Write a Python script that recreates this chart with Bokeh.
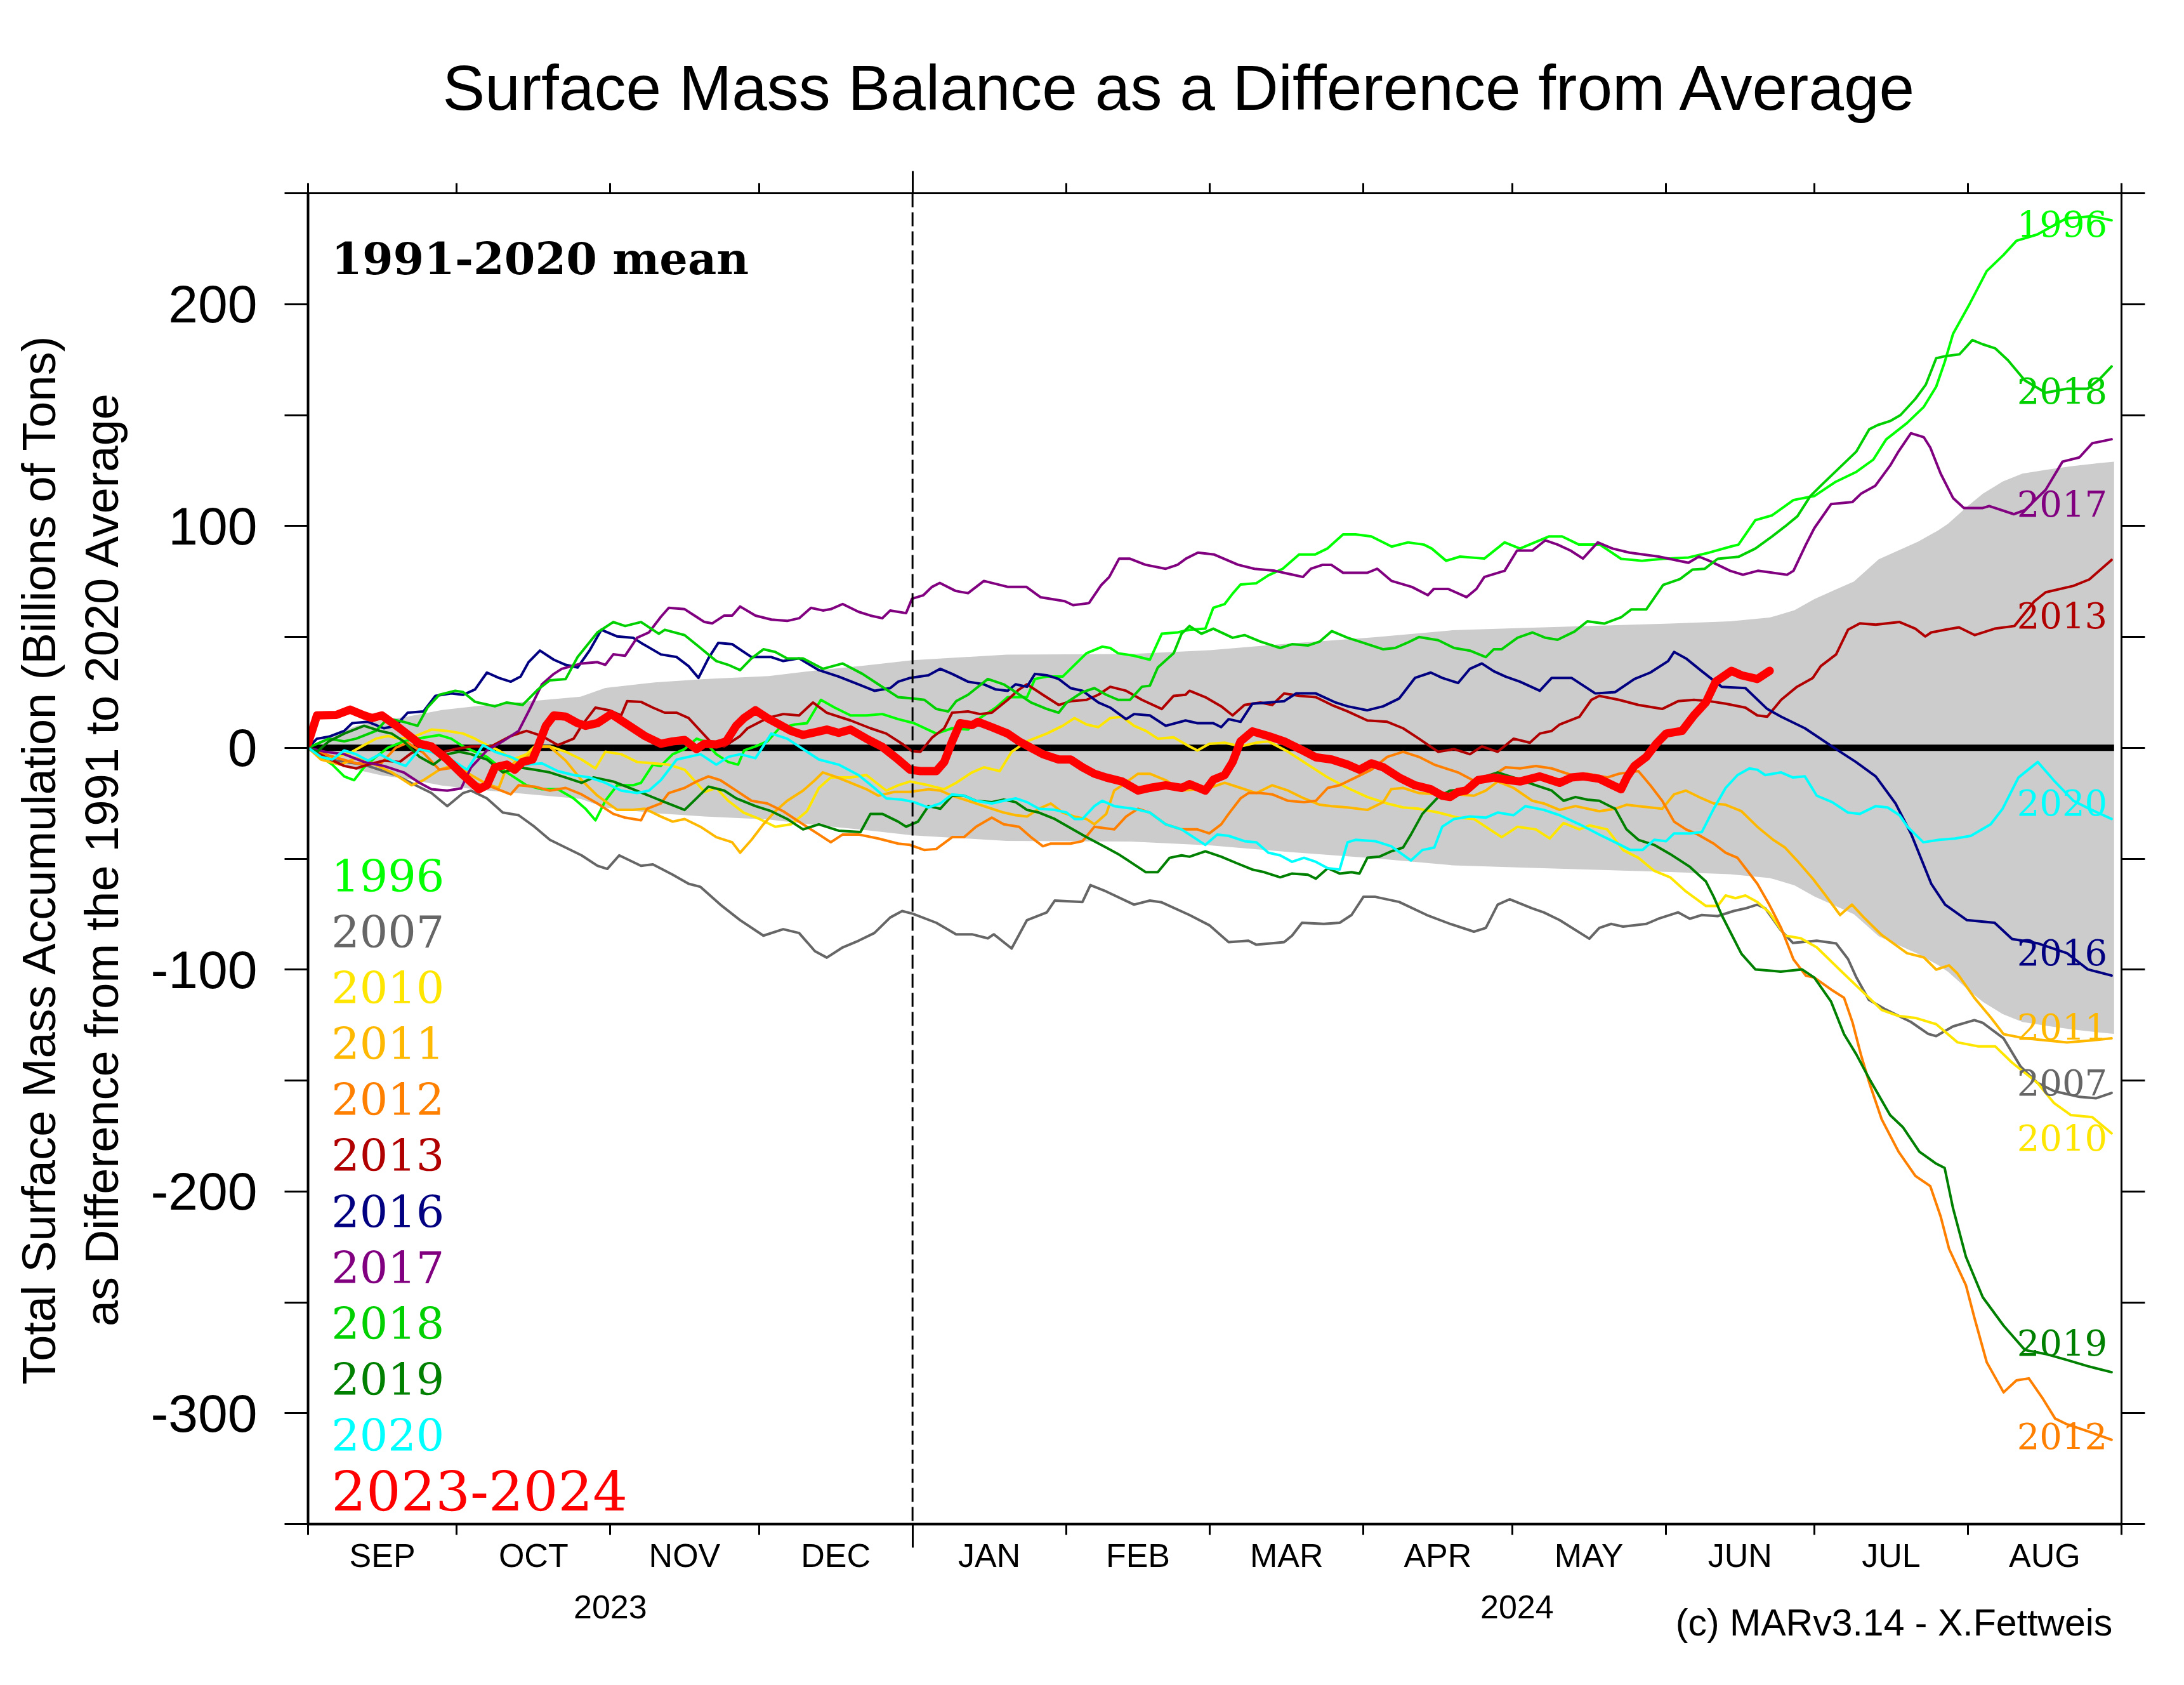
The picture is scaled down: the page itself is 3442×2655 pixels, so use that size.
import math
from bokeh.plotting import figure
from bokeh.models import Range1d, FixedTicker, LinearAxis, Span, Label
from bokeh.embed import file_html
from bokeh.resources import INLINE

# ---------------- data (day since 1 Sep 2023, anomaly in Gt) ----------------
month_names = ["SEP", "OCT", "NOV", "DEC", "JAN", "FEB", "MAR", "APR", "MAY", "JUN", "JUL", "AUG"]
month_bounds = [0, 30, 61, 91, 122, 153, 182, 213, 243, 274, 304, 335, 366]
year_names = ["2023", "2024"]
credit = "(c) MARv3.14 - X.Fettweis"
y_major = [-300, -200, -100, 0, 100, 200]
y_minor = [-350, -250, -150, -50, 50, 150, 250]

band_days = [0, 5, 10, 15, 20, 27, 35, 45, 55, 60, 70, 80, 93, 103, 112, 122, 141, 166, 182, 198,
             215, 231, 245, 260, 275, 287, 295, 300, 304, 308, 312, 317, 321, 325, 329, 331, 335,
             338, 342, 346, 351, 356, 360, 364.5]
band_half = [0, 6, 10, 12.5, 14, 17, 19, 21, 23, 27, 29.5, 31, 32.3, 35, 37, 39.5, 42, 42.3, 44, 47,
             49.8, 53, 54, 55, 56, 57, 58.7, 62, 67, 71, 75, 85, 89, 93, 98, 101, 109,
             114.5, 120, 123.6, 125.4, 127, 128, 129]

mean_days = [0, 364.5]
mean_vals = [0, 0]

s1996 = [(0,0),(2.6,-4.1),(4.9,-7.6),(7.3,-12.9),(9.3,-14.6),(11.3,-8.8),(13.7,-4.1),(16.1,0),(19.3,2.9),(22.5,4.3),(26.5,5.7),(28.9,4.1),(31.3,0.6),(33.7,-1.8),(36.1,-4.1),(39.3,-9.9),(41.7,-13.4),(44.1,-16.9),(47.2,-18.7),(50.4,-18.7),(53.6,-22.8),(56,-27.5),(58,-32.7),(60,-23.9),(62.4,-16.9),(65.6,-16.9),(67.2,-15.8),(69.6,-7.6),(71.2,-8.2),(73.6,-2.9),(76,-0.6),(78.4,4.1),(80,2.9),(82.4,-2.9),(84.8,-6.4),(86.8,-7.6),(88,-1.2),(90.3,0.6),(92.7,2.9),(95.1,8.8),(98.3,10.5),(100.7,11.1),(103.5,21.6),(106.3,18.1),(109.5,14.6),(112.7,14.6),(115.9,15.2),(119.1,12.9),(122.3,11.1),(126.8,6.4),(130,8.8),(133.2,8.2),(135.6,13.4),(138.8,18.1),(141.2,22.8),(145.1,22.8),(146.7,31),(149.1,32.1),(152.3,32.1),(153.9,35.6),(157.1,42.6),(160.3,45.6),(161.9,45),(163.5,42.6),(166.7,41.5),(169.9,39.7),(172.3,51.4),(175.5,52),(177.9,53.2),(181.1,53.7),(182.7,63.1),(185,64.8),(186.6,69.5),(188.2,73.6),(191.4,74.2),(193.8,77.7),(196.7,80.7),(200,87.1),(203.2,87.1),(205.7,89.8),(208.9,96.2),(211.4,96.2),(214.6,95.3),(218.7,90.7),(222,92.6),(225.2,91.6),(226.8,89.8),(229.7,84.3),(232.5,86.2),(237.4,85.3),(241.5,92.6),(244.6,89.8),(250.5,95.3),(253.1,95.3),(256.5,91.6),(260.7,91.6),(265,85.2),(269.2,84.3),(273.5,85.2),(278.6,85.8),(282.8,88),(287.1,90.7),(288.7,91.6),(292.1,102.6),(295.5,104.8),(299.8,111.7),(304,113.5),(308.3,119.9),(312.5,124.4),(315.9,129.9),(318.5,139),(322.7,146.4),(326.1,153.7),(328.6,162.8),(330.3,173.8),(332,186.6),(335.4,200.3),(338.8,214.9),(342.2,222.2),(344.8,228.6),(349,231.4),(354.9,238.7),(360.1,239.6),(364,237.8)]

s2007 = [(0,0),(5.7,-5.8),(11.3,-7.6),(17.7,-12.3),(21.7,-16.9),(24.9,-20.4),(28.1,-26.3),(31.3,-20.4),(32.9,-19.3),(36.1,-22.8),(39.3,-29.2),(42.5,-30.4),(45.7,-35.6),(48.8,-41.5),(52,-45),(55.2,-48.5),(58.4,-53.2),(60.4,-54.6),(62.8,-48.5),(67.2,-53.2),(69.6,-52.6),(73.6,-57.2),(76.8,-61.3),(79.2,-62.7),(83.2,-70.7),(87.2,-77.7),(91.9,-84.7),(95.9,-81.8),(99.1,-83.5),(102.3,-91.7),(104.7,-94.6),(107.9,-90),(111.1,-87),(114.3,-83.5),(117.5,-76.5),(119.9,-73.6),(122,-74.8),(126.8,-78.9),(130.8,-84.1),(134,-84.1),(137.2,-85.9),(138.4,-84.1),(142,-90.5),(145.1,-77.7),(149.1,-74.2),(150.7,-68.9),(156.3,-69.5),(157.9,-61.9),(161.1,-64.8),(166.7,-70.7),(169.9,-68.9),(172.3,-69.7),(177.9,-75.4),(181.9,-80),(185.8,-87.6),(189.8,-87),(191.4,-88.8),(197,-87.6),(198.6,-84.7),(200.6,-78.9),(205,-79.4),(208.2,-78.9),(210.6,-75.4),(213,-67.2),(215.4,-67.2),(220.2,-69.5),(225.8,-75.4),(230.5,-79.4),(235.3,-82.9),(237.7,-81.2),(240.1,-70.7),(242.5,-68.3),(247.1,-72.4),(249.4,-74.2),(252.6,-77.7),(258.6,-86.1),(260.6,-81.2),(263,-79.4),(265.4,-80.6),(270.1,-79.4),(272.5,-77.1),(276.5,-74.2),(278.9,-77.1),(281.3,-75.4),(284.5,-75.9),(287.7,-73.6),(290.1,-72.4),(292.5,-70.7),(294.1,-72.4),(297.3,-82.4),(299.7,-88),(304.5,-87),(308.4,-88.2),(310.8,-95.2),(312.5,-103.6),(315,-113.6),(318.4,-118),(323.5,-123.6),(327,-129),(328.6,-130),(332,-125.6),(336.3,-122.8),(338,-124),(342.2,-131),(345.6,-143.6),(349,-151),(352.4,-154.8),(357.5,-157.4),(360.9,-158),(364,-155.6)]

s2010 = [(0,0),(2.6,-3.5),(5.7,-4.3),(8.9,-1.8),(11.3,1.2),(13.7,4.1),(16.1,5.3),(18.5,4.1),(21.7,5.3),(24.9,8.2),(28.1,7.6),(31.3,6.4),(33.7,4.1),(36.1,1.2),(38.5,-1.2),(41.3,-5.3),(44.1,-2.9),(45.7,0.6),(48.8,0.6),(52,-1.8),(55.2,-5.3),(58,-9.3),(60,-1.8),(63.2,-2.9),(66.4,-6.4),(69.6,-7),(72.8,-7.6),(76,-9.9),(78.4,-15.8),(80,-19.9),(82.4,-18.1),(84.8,-23.9),(87.9,-29.2),(91.1,-32.1),(94.3,-35.6),(97.5,-34.5),(100.7,-28.6),(103.1,-18.1),(105.5,-13.4),(109.5,-13.4),(112.7,-12.3),(116.7,-19.3),(119.1,-16.9),(121.5,-15.2),(125.2,-16.9),(128.4,-18.7),(130.8,-15.8),(134,-11.1),(136.4,-8.8),(139.6,-10.5),(142,-1.8),(145.1,2.9),(149.1,6.4),(152.3,9.9),(154.7,13.4),(157.1,10.5),(159.5,9.3),(161.9,13.4),(164.3,14),(166.7,9.9),(169.1,7.6),(171.5,4.1),(174.7,4.7),(177.9,0.6),(179.5,-1.2),(181.9,1.8),(185,2.3),(188.2,0.6),(191.4,2.3),(193.8,2.9),(197.8,-1.8),(201.8,-7.6),(205.8,-13.4),(209.8,-18.1),(213.8,-22.2),(217.8,-25.1),(221,-26.9),(224.2,-27.5),(228.1,-29.2),(232.1,-31.5),(235.3,-32.1),(238.5,-36.8),(240.9,-40.3),(244.1,-35.6),(247.8,-36.8),(250.6,-40.9),(253.4,-33.9),(256.6,-36.8),(258.6,-35),(262.2,-36.8),(265.4,-46.1),(268.5,-49.6),(271.7,-55.5),(274.9,-58.4),(278.1,-64.8),(282.1,-71.3),(284.5,-71.3),(286.1,-66.6),(288.1,-67.8),(290.1,-66.6),(292.5,-69.5),(294.9,-74.2),(298.1,-84.7),(301.3,-85.9),(304.5,-90),(309.1,-100),(314.2,-110.9),(317.6,-118.2),(321,-120.9),(324.4,-121.8),(328.6,-124.6),(332.9,-132.8),(337.1,-134.6),(340.5,-134.6),(343.9,-141.9),(349,-151),(352.4,-160.2),(355.8,-165.6),(360.1,-166.5),(364,-173.8)]

s2011 = [(0,0),(2.6,-5.3),(6.5,-7.6),(9.7,-4.7),(12.9,-7),(16.9,-11.1),(20.9,-16.9),(23.3,-14.6),(26.5,-9.9),(29.7,-7.6),(32.9,-12.3),(36.1,-16.4),(38.5,-18.1),(39.7,-11.1),(41.7,-6.4),(44.1,-4.1),(46.4,0.4),(48.8,0.4),(52,-5.8),(55.2,-14.6),(58.4,-21.6),(62.4,-28),(65.6,-28),(68,-27.5),(71.2,-31),(73.6,-33.3),(76,-32.1),(79.2,-35.6),(82.4,-40.3),(85.6,-42.6),(87.2,-47.3),(89.5,-41.5),(91.9,-34.5),(94.3,-28.6),(96.7,-23.9),(99.9,-19.3),(102.3,-14.6),(103.9,-11.1),(106.3,-12.9),(109.5,-15.8),(112.7,-18.7),(115.1,-21.6),(118.3,-19.9),(121.5,-19.9),(125.2,-18.7),(127.6,-19.3),(130,-21.6),(134,-24.5),(137.2,-26.9),(140.4,-29.2),(142.8,-30.4),(145.1,-31),(147.5,-27.5),(149.9,-25.1),(152.3,-29.2),(154.7,-31),(157.1,-32.1),(158.7,-34.5),(161.1,-29.8),(162.7,-19.3),(164.3,-16.9),(167.5,-11.7),(169.9,-11.7),(173.1,-14.6),(176.3,-19.3),(181.9,-18.1),(185,-15.8),(188.2,-18.1),(191.4,-20.4),(194.6,-16.9),(197.8,-19.3),(201,-22.8),(204.2,-25.7),(206.6,-26.3),(209.8,-26.9),(213.8,-28),(217,-24.5),(218.6,-18.7),(221,-18.1),(224.2,-20.4),(228.1,-21),(232.1,-21),(235.3,-21.6),(237.7,-19.3),(240.1,-15.2),(243.3,-18.1),(247.1,-23.9),(249.4,-25.1),(252.6,-28),(255.8,-26.3),(260.6,-28.6),(263.8,-27.5),(266.1,-25.7),(268.5,-26.3),(273.3,-27.5),(275.7,-21),(278.1,-19.3),(281.3,-22.8),(283.7,-25.1),(286.1,-25.7),(289.3,-28.6),(292.5,-35.6),(295.7,-41.5),(298.1,-45),(300.5,-50.8),(303.7,-59),(306.1,-66),(309.2,-75.4),(311.6,-70.7),(314,-76.5),(317.6,-84.4),(322.7,-92.6),(326.1,-94.5),(328.6,-100),(331.2,-98.1),(332.9,-101.8),(336.3,-112.7),(339.7,-121.8),(342.2,-129.1),(346.5,-131),(350.7,-131.9),(355,-132.8),(360.1,-131.9),(364,-131)]

s2012 = [(0,0),(4.2,-3.5),(9.7,-7),(14.5,-7.6),(17.7,0),(20.1,2.3),(23.3,-2.3),(26.5,-9.9),(29.7,-8.8),(32.9,-15.8),(36.9,-17.5),(40.9,-21),(42.5,-16.9),(45.7,-17.5),(48.8,-19.3),(52,-18.1),(55.2,-21),(58.4,-25.1),(61.6,-29.8),(64,-31.5),(67.2,-32.7),(68.4,-27.5),(71.2,-25.1),(72.8,-20.4),(76,-18.1),(78.4,-15.2),(80.8,-12.9),(83.2,-14.6),(86.4,-19.3),(89.5,-23.9),(92.7,-25.1),(95.9,-28.6),(99.9,-34.5),(103.1,-39.1),(105.5,-42.6),(107.9,-39.1),(111.1,-39.1),(115.1,-40.9),(119.1,-43.2),(121.5,-43.8),(124.4,-46.1),(126.8,-45.6),(130,-40.3),(132.4,-40.3),(134.8,-35.6),(138,-31.5),(140.4,-34.5),(143.5,-35.6),(145.9,-40.3),(148.3,-44.4),(149.9,-43.2),(153.9,-43.2),(156.3,-42.1),(158.7,-35.6),(162.7,-36.8),(165.1,-31),(167.5,-27.5),(169.9,-29.2),(173.1,-34.5),(176.3,-36.8),(179.5,-36.8),(181.9,-38.6),(184.3,-34.5),(185.8,-29.8),(188.2,-22.8),(189.8,-20.4),(192.2,-20.4),(194.6,-21),(197.8,-23.9),(201,-24.5),(203.4,-23.9),(205.8,-18.1),(208.2,-16.9),(211.4,-13.4),(214.6,-9.9),(217.8,-4.1),(221,-1.8),(224.2,-4.1),(227.3,-7.6),(232.1,-11.1),(236.1,-15.8),(239.3,-12.3),(241.7,-8.8),(244.6,-9.3),(247.8,-8.2),(251,-9.3),(255,-12.3),(258.2,-11.7),(262.2,-13.4),(264.6,-11.7),(268.5,-10.5),(270.9,-16.9),(273.3,-23.9),(275.7,-33.3),(278.1,-36.8),(280.5,-39.1),(283.7,-43.2),(286.1,-47.3),(288.5,-49.6),(290.1,-54.3),(292.5,-61.3),(294.9,-70.7),(297.3,-81.2),(299.8,-95.4),(302.3,-102.7),(304,-103.6),(307.4,-109),(310,-112.7),(311.7,-123.7),(313.4,-138.3),(315.1,-151),(317.6,-167.5),(321,-182.1),(324.4,-193),(327.4,-197.6),(329.5,-211.3),(331.2,-225.9),(334.6,-242.3),(336.3,-256.9),(338.8,-277),(342.2,-290.6),(344.8,-285.2),(347.3,-284.3),(350,-293),(352.6,-302.4),(355,-305),(360.3,-309),(364,-312)]

s2013 = [(0,0),(3.4,-4.1),(7.3,-8.2),(9.7,-9.3),(12.1,-7.6),(15.3,-5.8),(18.5,-6.4),(20.9,-2.3),(23.3,-0.6),(26.5,-2.3),(29.7,-0.6),(32.9,0.6),(36.9,0.6),(40.9,5.3),(44.1,7.6),(47.2,5.3),(50.4,1.2),(53.6,4.1),(55.2,9.9),(58,18.1),(60.8,16.9),(63.2,14.6),(64.4,21),(67.2,20.7),(69.6,18.1),(72,15.8),(74.4,15.8),(76.8,13.4),(79.2,7.6),(81.6,1.8),(84,0.6),(87.2,5.3),(88.7,8.8),(92.7,13.4),(95.9,15.2),(99.1,14.6),(101.9,20.4),(104.7,15.8),(109.5,12.3),(113.5,8.8),(116.7,6.4),(119.9,1.8),(121.9,-1.5),(123.6,-1.8),(126,4.7),(128.4,8.8),(130,15.8),(133.2,16.4),(135.6,15.2),(138,15.8),(141.2,21.6),(143.5,26.3),(145.1,28.6),(148.3,23.9),(151.5,19.3),(153.9,21),(157.1,21.6),(159.5,23.9),(161.9,27.5),(165.1,25.7),(168.3,21.6),(172.3,17.5),(174.7,23.4),(177.1,23.9),(177.9,25.7),(181.1,22.8),(184.3,18.7),(186.6,14.6),(189,19.3),(192.2,20.4),(194.6,19.3),(197,24.5),(200.2,23.4),(203.4,22.8),(206.6,19.3),(209.8,16.4),(213.8,12.3),(217.8,11.7),(221,8.8),(224.2,4.1),(228.1,-1.8),(231.3,-0.6),(234.5,-2.9),(236.9,0.6),(240.1,-1.8),(243.3,4.1),(246.6,2.3),(248.6,6.4),(251,7.6),(252.6,10.5),(256.6,14),(259,21.6),(260.6,23.4),(264.6,21.6),(268.5,19.3),(273.3,17.5),(276.5,21),(279.7,21.6),(282.9,21),(286.1,19.9),(290.1,18.1),(292.5,14.6),(294.5,14),(297.3,21.6),(300.5,27.5),(303.7,31.5),(305.3,36.8),(308.4,42.1),(310.8,53.2),(313.2,56.1),(316.4,55.5),(321.2,56.7),(324.4,53.7),(326.4,50.2),(327.6,52),(330.4,53.2),(333.2,54.3),(336.4,50.8),(340.4,53.7),(344.4,54.9),(348.4,66),(350.7,70.1),(356.3,73),(359.5,75.9),(364,84.7)]

s2016 = [(0,0),(1.8,4.1),(4.2,5),(7.3,7.6),(8.9,11.1),(12.1,11.7),(15.3,8.8),(17.7,9.9),(20.1,15.8),(23.3,16.4),(25.7,23.4),(28.9,24.5),(31.3,23.9),(33.7,26.3),(36.1,33.9),(38.5,31.5),(40.9,29.8),(42.9,32.1),(44.5,38.6),(46.8,43.8),(49.6,39.7),(52,37.4),(54.4,36.2),(56.8,43.8),(59.2,53.2),(62.4,50.2),(65.6,49.6),(67.2,47.3),(71.2,42.1),(74.4,40.9),(76.8,36.8),(78.8,31.5),(80.8,40.3),(82.8,47.3),(85.6,46.7),(89.5,40.9),(93.5,40.9),(95.9,39.1),(99.1,40.3),(103.1,35),(107.1,32.1),(111.1,28.6),(114.3,25.7),(117.5,26.9),(119.1,29.8),(121.5,31.5),(125.2,32.7),(127.6,35.6),(130,33.3),(133.2,29.8),(136.4,28.6),(138.8,26.3),(141.2,25.7),(142.8,28.6),(145.1,27.5),(146.7,33.3),(149.1,32.7),(151.5,31),(153.9,26.9),(156.3,25.7),(159.5,20.4),(161.9,18.1),(165.1,12.9),(166.7,15.2),(169.9,14.6),(173.1,9.9),(177.1,12.3),(179.5,11.1),(182.7,11.1),(184.3,9.3),(185.8,12.9),(188.2,11.7),(190.6,19.9),(193.8,20.4),(197,21),(199.4,24.5),(203.4,24.5),(207.4,20.4),(209.8,18.7),(213.8,16.9),(217,18.7),(220.2,22.2),(223.4,31.5),(226.6,33.9),(228.9,31.5),(232.1,29.2),(234.5,35.6),(236.9,38),(239.3,34.5),(241.7,32.1),(244.6,29.8),(248.6,25.7),(251,31.5),(255,31.5),(259.8,24.5),(263.8,25.1),(267.7,31),(270.9,33.9),(274.5,39.1),(275.7,43.2),(278.1,40.3),(281.3,34.5),(285.3,27.5),(290.1,26.9),(294.5,17.5),(297.3,14),(302.1,8.8),(308.4,-0.6),(312.4,-6.4),(316.4,-12.9),(320.4,-25.1),(323.6,-39.1),(327.6,-61.3),(330.4,-70.7),(334.8,-77.7),(340.4,-78.9),(343.9,-86.2),(349,-88.1),(355,-92.6),(359.2,-99.9),(364,-102.7)]

s2017 = [(0,0),(3.4,-1.8),(7.3,-2.9),(11.3,-6.4),(15.3,-8.2),(19.3,-11.1),(22.5,-15.8),(24.9,-18.7),(28.1,-19.3),(30.9,-18.3),(32.9,-8.8),(36.1,-1.2),(39.3,2.9),(42.5,7.6),(44.9,18.1),(47.2,28.6),(49.6,33.3),(51.2,35.6),(55.2,38),(58.4,38.6),(60,37.4),(61.6,42.1),(64,41.5),(66.4,49.6),(68.8,52),(71.2,59),(72.8,63.1),(76,62.5),(78.4,59),(80,56.7),(81.6,56.1),(84,59.6),(85.6,59.6),(87.2,63.7),(90.3,59.6),(93.5,57.8),(96.7,57.2),(99.1,58.4),(101.5,63.1),(103.9,61.9),(105.5,62.5),(107.9,64.8),(111.1,61.3),(113.5,59.6),(115.9,58.4),(117.5,61.9),(120.7,60.7),(121.9,67.2),(124.2,68.8),(125.9,72.5),(127.5,74.3),(130.7,70.7),(133.2,69.7),(136.4,75.2),(141.3,72.5),(145,72.5),(147.8,67.9),(152.7,66.1),(154.4,64.3),(157.6,65.2),(160.1,73.4),(161.7,77),(163.7,85.3),(165.8,85.3),(169,82.5),(173.1,80.7),(175.5,82.5),(177.2,85.3),(179.6,88),(182.9,87.1),(187.7,82.5),(191,80.7),(195.1,79.8),(200.8,77),(202.4,80.7),(204.8,82.5),(206.5,82.5),(208.9,78.9),(213.8,78.9),(215.8,80.7),(218.7,75.2),(222.8,72.5),(226,68.8),(227.2,71.6),(230.1,71.6),(233.8,67.9),(235.8,71.6),(237.4,77),(241.5,79.8),(244,88.9),(247.1,88.9),(249.7,93.5),(252.2,91.6),(254.8,88.9),(257.3,85.3),(260.3,92.6),(263.3,89.8),(266.7,88),(272.6,86.2),(278.6,83.4),(280.7,86.2),(282.8,84.3),(287,79.8),(289.6,78),(292.6,79.8),(298.5,78),(299.8,79.8),(302.3,91.6),(304,99),(307.4,109.9),(311.7,110.8),(313.4,114.5),(316.3,118.1),(319.3,127.2),(321,133.6),(323.5,141.8),(326.1,140),(327.4,135.4),(329.5,123.6),(332,112.6),(334.2,108.1),(338,108.1),(339.3,109),(344.3,105.3),(346.5,107.2),(350.7,116.3),(354.1,129),(357.5,130.9),(360.1,137.3),(364,139.1)]

s2018 = [(0,0),(4.2,4.1),(7.3,2.9),(9.7,4.1),(13.7,7.6),(16.1,13.2),(19.3,11.7),(22.1,9.9),(24.1,18.1),(26.5,23.9),(29.7,25.7),(31.3,25.1),(33.7,20.7),(37.7,18.7),(40.1,20.4),(43.3,19.3),(46.4,26.3),(48.8,30.4),(52,31),(54.4,40.9),(58.4,52),(61.6,56.7),(64,54.9),(67.2,56.7),(70.8,51.4),(72,53.2),(76,50.8),(79.2,45),(82.4,39.1),(84.8,37.4),(87.2,35),(89.5,40.3),(91.9,44.4),(94.3,43.2),(96.7,40.3),(99.9,40.3),(103.9,35.6),(107.9,38),(111.9,33.3),(115.1,28.6),(119.1,22.8),(122.3,22.2),(124.4,21.6),(126.8,17.5),(129.2,16.4),(130.8,21),(133.2,23.9),(137.2,31),(140.4,28.6),(142.8,25.1),(145.9,20.4),(149.1,17.5),(151.5,15.8),(153.1,20.4),(156.3,25.1),(158.7,26.9),(161.1,23.9),(163.5,21.6),(165.9,21.6),(168.3,27.5),(169.9,28),(171.5,36.2),(174.7,42.6),(176.3,51.4),(177.9,54.9),(180.3,51.4),(182.7,53.7),(186.6,49.6),(189,50.8),(192.2,47.9),(196.2,45),(198.6,46.7),(201.8,46.1),(204.2,47.9),(206.6,52.6),(209.8,49.6),(213,47.3),(217,44.4),(219.4,45),(221.8,47.3),(224.2,49.9),(228.1,48.5),(231.3,45),(234.5,43.8),(237.7,40.9),(239.3,44.4),(240.9,44.4),(244.1,49.6),(247.1,52),(249.7,49.6),(252.2,48.7),(255.6,52.4),(258.2,57),(261.6,56),(265,58.8),(267.1,62.4),(270.1,62.4),(273.5,73.4),(276.9,76.1),(279.4,80.3),(281.9,80.7),(284.5,85.2),(288.7,86.1),(292.1,89.8),(295.5,95.3),(298.1,99.8),(300.6,104.4),(303.2,113.5),(305.7,119),(309.1,126.3),(312.5,133.6),(315.1,143.6),(316.8,145.5),(319.3,147.3),(321.4,150),(324.4,157.3),(326.5,163.7),(328.6,175.6),(330.3,176.5),(333.3,177.4),(335.9,183.8),(338,181.9),(340.5,180.1),(343.1,174.7),(346.5,165.6),(350.7,160.1),(355,161.9),(359.2,161.9),(361.7,166.5),(364,171.9)]

s2019 = [(0,0),(1.8,-1.8),(4.2,2.9),(7.3,6.4),(11.3,9.9),(14.5,7.6),(16.9,6.4),(19.3,2.9),(22.5,-4.1),(25.3,-7.6),(28.1,-2.9),(30.5,-1.8),(32.9,-2.9),(36.1,-5.3),(39.3,-11.1),(42.5,-8.8),(45.7,-9.9),(48.8,-11.1),(52,-13.4),(55.2,-15.8),(57.6,-13.4),(61.6,-15.2),(65.6,-18.7),(68.8,-21.6),(72,-24.5),(76,-28),(78.4,-22.8),(80.8,-17.5),(84,-19.3),(86.4,-22.8),(90.3,-26.3),(93.5,-28.6),(96.7,-32.1),(99.9,-36.8),(103.1,-34.5),(107.1,-37.4),(111.5,-38),(113.5,-29.8),(115.9,-29.8),(119.1,-33.3),(120.7,-35.6),(123.1,-33.3),(125.2,-26.3),(127.6,-27.5),(130,-21.6),(132.4,-21.6),(134.8,-23.9),(138,-24.5),(140.4,-23.4),(142.8,-24.5),(145.1,-28),(147.5,-29.2),(150.7,-32.1),(153.9,-36.2),(157.1,-40.3),(161.1,-45),(163.5,-47.9),(165.9,-51.4),(169.1,-56.1),(171.5,-56.1),(173.9,-49.6),(176.3,-48.5),(177.9,-49.1),(181.1,-46.7),(184.3,-49.1),(187.4,-52),(190.6,-54.9),(193,-56.1),(196.2,-58.4),(198.6,-56.7),(201.8,-57.2),(203.4,-59),(205.8,-54.3),(208.2,-56.7),(210.6,-56.1),(212.2,-56.7),(213.8,-49.6),(216.2,-49.1),(218.6,-46.7),(221,-45),(222.6,-39.1),(224.9,-29.8),(228.1,-22.2),(230.5,-19.3),(233.7,-18.7),(236.9,-13.4),(240.1,-11.1),(243.3,-13.4),(247.8,-16.9),(251,-19.3),(253.4,-23.9),(255.8,-22.2),(258.2,-23.4),(260.6,-23.9),(263.8,-27.5),(266.1,-36.8),(268.5,-41.5),(271.7,-43.8),(274.9,-47.9),(278.9,-53.7),(282.1,-60.2),(283.7,-67.2),(285.3,-75.4),(287.7,-85.9),(289.3,-92.9),(292.1,-99.9),(297.2,-100.9),(301.5,-99.9),(304,-103.6),(307.4,-114.5),(310,-129.1),(312.5,-138.3),(315.1,-149.2),(319.3,-165.6),(321.9,-171.1),(325.2,-182.1),(328.6,-187.5),(330.3,-189.4),(332,-207.6),(334.6,-229.5),(338,-247.7),(342.2,-260.5),(346.5,-271.5),(350.7,-273.3),(355,-276),(359.2,-278.8),(364,-281.5)]

s2020 = [(0,0),(2.6,-4.1),(4.9,-5.3),(7.3,-1.2),(9.7,-2.9),(12.1,-5.8),(14.5,-2.9),(16.9,-5.8),(19.7,-8.2),(22.5,-0.6),(24.9,-1.8),(27.3,-4.1),(29.7,-6.4),(32.1,-9.9),(35.3,1.2),(37.7,-1.8),(40.9,-4.1),(44.1,-7.6),(47.2,-7),(50.4,-10.5),(53.6,-12.3),(56.8,-13.4),(60,-15.8),(63.2,-19.3),(66.4,-20.4),(68.8,-19.3),(71.2,-14.6),(74.4,-5.3),(79.2,-2.9),(82.4,-7.6),(84.8,-4.1),(87.2,-2.9),(90.3,-4.7),(93.5,6.4),(96.7,4.1),(99.9,-0.6),(103.1,-5.3),(107.1,-7.6),(111.1,-12.3),(114.3,-18.1),(116.7,-22.8),(119.9,-23.4),(122.3,-24.5),(125.2,-26.9),(127.6,-25.1),(130,-21),(132.4,-21.6),(134.8,-23.9),(138,-25.1),(140.4,-23.9),(142.8,-22.8),(145.1,-24.5),(147.5,-27.5),(150.7,-28),(153.1,-29.2),(154.7,-32.1),(156.3,-32.1),(158.7,-26.3),(160.3,-23.9),(162.7,-26.3),(166.7,-27.5),(169.9,-29.2),(173.1,-34.5),(176.3,-36.8),(178.7,-40.3),(181.1,-43.8),(183.5,-39.1),(185.8,-39.7),(189,-42.1),(191.4,-42.6),(193.8,-47.3),(196.2,-48.5),(198.6,-51.4),(201,-49.6),(203.4,-51.4),(205.8,-54.3),(208.2,-54.9),(209.8,-42.6),(211.4,-41.5),(215.4,-42.1),(218.6,-44.4),(222.6,-50.8),(224.9,-46.1),(227.3,-45),(228.9,-35.6),(231.3,-32.1),(234.5,-31),(237.7,-31.5),(240.1,-29.2),(243.3,-30.4),(245.7,-26.3),(249.4,-28),(252.6,-30.4),(256.6,-34.5),(260.6,-39.1),(263.8,-42.6),(266.9,-46.1),(269.3,-46.1),(271.7,-41.5),(274.1,-42.1),(275.7,-38.6),(278.9,-38.6),(281.3,-38),(283.7,-27.5),(286.1,-18.1),(288.5,-12.3),(290.9,-9.3),(292.5,-9.9),(294.1,-12.3),(297.3,-11.1),(299.7,-13.4),(302.1,-12.9),(304.5,-21.6),(307.6,-24.5),(310.8,-29.2),(313.2,-29.8),(316.4,-26.3),(318.8,-26.9),(321.2,-30.4),(322.8,-35.6),(326,-42.6),(329.2,-41.5),(332.4,-40.9),(335.6,-39.7),(339.6,-34.5),(342,-27.5),(345.2,-13.4),(349.1,-6.4),(352.3,-14.6),(356.3,-23.9),(359.5,-27.5),(364,-32.1)]

s2024 = [(0,2),(1.8,14.6),(5.7,14.8),(8.5,17.2),(11.3,14.6),(12.9,13.4),(14.9,14.6),(18.5,8.8),(22.5,1.8),(24.9,0.6),(28.1,-5.3),(31.3,-12.3),(34.5,-18.7),(36.1,-16.9),(37.7,-8.8),(40.1,-7.6),(41.7,-9.9),(43.3,-6.4),(45.3,-5.3),(46.4,0.6),(48,9.9),(49.6,14.6),(52,14),(54.4,11.1),(56,9.9),(58.4,11.1),(61.2,15.2),(63.2,12.3),(65.6,8.8),(68,5.3),(71.2,1.8),(73.6,2.9),(76,3.5),(78.4,-0.6),(80,1.8),(82.4,1.5),(84.4,2.9),(86.4,9.9),(88,13.4),(90.3,16.9),(92.7,13.4),(95.1,10.5),(97.5,7.6),(99.9,5.8),(102.3,7),(104.7,8.2),(107.1,6.7),(109.5,8.2),(112.7,4.1),(115.9,0.4),(119.1,-5.3),(121.5,-9.9),(123.6,-10.5),(126.8,-10.5),(128.4,-6.4),(130,2.9),(131.6,11.1),(134,10.2),(135.2,11.7),(138,9.3),(141.2,6.4),(143.5,2.9),(145.9,0),(148.3,-2.9),(151.5,-5.3),(153.9,-5.3),(156.3,-8.8),(158.7,-11.7),(161.1,-13.4),(164.3,-15.2),(167.5,-19.3),(169.9,-18.1),(173.1,-16.9),(176.3,-18.1),(177.9,-16.4),(181.1,-19.3),(182.7,-14.4),(185,-12.3),(186.6,-6.4),(188.2,2.9),(190.6,7.4),(193.8,5.3),(197,2.9),(200.2,-0.6),(203.4,-4.3),(206.6,-5.3),(209.8,-7.6),(212.2,-9.9),(214.6,-7),(217,-8.8),(220.2,-13.4),(223.4,-16.9),(226.6,-18.7),(228.9,-21.6),(230.5,-22.2),(232.1,-19.9),(233.7,-19.3),(236.1,-14.6),(239.3,-13.4),(242.5,-14.6),(244.6,-15.2),(248.6,-12.9),(252.6,-15.8),(255,-13.4),(257.4,-12.9),(260.6,-14),(265,-18.7),(266.2,-13.2),(267.7,-8.2),(270.1,-4.1),(272.1,1.8),(274.1,6.4),(277.3,7.6),(279.7,14.6),(282.1,20.4),(284.1,29.8),(287.3,34.7),(289.3,32.7),(292.5,31),(295,34.7)]

years = ["1996", "2007", "2010", "2011", "2012", "2013", "2016", "2017", "2018", "2019", "2020"]
series = {"1996": s1996, "2007": s2007, "2010": s2010, "2011": s2011, "2012": s2012,
          "2013": s2013, "2016": s2016, "2017": s2017, "2018": s2018, "2019": s2019,
          "2020": s2020}
current_name = "2023-2024"

# value of each line where its right-hand tag is written
tag_values = {"1996": 236.2, "2018": 160.9, "2017": 110.0, "2013": 59.6, "2020": -24.8,
              "2016": -92.3, "2011": -125.8, "2007": -151.0, "2010": -175.8,
              "2019": -268.3, "2012": -310.3}

colors = {"1996": "#00ff00", "2007": "#666666", "2010": "#ffe600", "2011": "#ffb800",
          "2012": "#ff8000", "2013": "#b00000", "2016": "#000080", "2017": "#800080",
          "2018": "#00d000", "2019": "#008000", "2020": "#00ffff", current_name: "#ff0000"}

# ---------------- figure ----------------
SANS = "Liberation Sans"
SERIF = "DejaVu Serif"

W, H = 3426, 2639
p = figure(width=W, height=H, x_range=Range1d(0, 366), y_range=Range1d(-350, 250),
           output_backend="svg", toolbar_location=None,
           min_border_left=485, min_border_right=83, min_border_top=304, min_border_bottom=238)
p.grid.visible = False
p.outline_line_color = None
p.background_fill_color = "white"
p.border_fill_color = "white"

p.title.text = "Surface Mass Balance as a Difference from Average"
p.title.text_font = SANS
p.title.text_font_size = "100px"
p.title.text_font_style = "normal"
p.title.text_color = "black"
p.title.align = "left"
p.title.offset = 212
p.title.standoff = 151

# bottom axis 1: month boundary ticks, Jan 1 tick longer (dashed line continuation)
xa = p.xaxis[0]
xa.ticker = FixedTicker(ticks=[122], minor_ticks=month_bounds)
xa.major_tick_out = 37
xa.major_tick_in = 0
xa.minor_tick_out = 17
xa.minor_tick_in = 0
xa.major_label_text_font_size = "0px"
xa.major_label_overrides = {122: ""}
xa.major_label_standoff = 0
xa.axis_line_width = 4
xa.major_tick_line_width = 3
xa.minor_tick_line_width = 3

# bottom axis 2: month names at mid-month
mid_months = [(month_bounds[i] + month_bounds[i + 1]) / 2 for i in range(12)]
months_axis = LinearAxis(ticker=FixedTicker(ticks=mid_months),
                         major_label_overrides={m: n for m, n in zip(mid_months, month_names)},
                         major_label_text_font=SANS, major_label_text_font_size="52px",
                         major_label_text_color="black",
                         major_label_standoff=-17, major_tick_out=0, major_tick_in=0,
                         axis_line_color=None, major_tick_line_color=None,
                         minor_tick_line_color=None)
p.add_layout(months_axis, "below")

# bottom axis 3: years
year_pos = [(month_bounds[0] + month_bounds[4]) / 2, (month_bounds[4] + month_bounds[12]) / 2]
years_axis = LinearAxis(ticker=FixedTicker(ticks=year_pos),
                        major_label_overrides={year_pos[0]: year_names[0],
                                               year_pos[1]: year_names[1]},
                        major_label_text_font=SANS, major_label_text_font_size="52px",
                        major_label_text_color="black",
                        major_label_standoff=31, major_tick_out=0, major_tick_in=0,
                        axis_line_color=None, major_tick_line_color=None,
                        minor_tick_line_color=None)
p.add_layout(years_axis, "below")

# bottom axis 4: credit line
credit_pos = [320.1]
credit_axis = LinearAxis(ticker=FixedTicker(ticks=credit_pos),
                         major_label_overrides={credit_pos[0]: credit},
                         major_label_text_font=SANS, major_label_text_font_size="59px",
                         major_label_text_color="black",
                         major_label_standoff=-29, major_tick_out=0, major_tick_in=0,
                         axis_line_color=None, major_tick_line_color=None,
                         minor_tick_line_color=None)
p.add_layout(credit_axis, "below")

top = LinearAxis(ticker=FixedTicker(ticks=[122], minor_ticks=month_bounds),
                 major_tick_out=35, major_tick_in=0, minor_tick_out=16, minor_tick_in=0,
                 major_label_text_font_size="0px", major_label_overrides={122: ""},
                 major_label_standoff=0,
                 axis_line_width=3, major_tick_line_width=3, minor_tick_line_width=3)
p.add_layout(top, "above")

ya = p.yaxis[0]
ya.ticker = FixedTicker(ticks=y_major, minor_ticks=y_minor)
ya.major_tick_out = 37
ya.major_tick_in = 0
ya.minor_tick_out = 37
ya.minor_tick_in = 0
ya.axis_line_width = 4
ya.major_tick_line_width = 3
ya.minor_tick_line_width = 3
ya.major_label_text_font = SANS
ya.major_label_text_font_size = "84px"
ya.major_label_text_color = "black"
ya.major_label_standoff = 43
ya.major_label_overrides = {t: str(t) for t in y_major}
ya.axis_label = "Total Surface Mass Accumulation (Billions of Tons)\nas Difference from the 1991 to 2020 Average"
ya.axis_label_text_font = SANS
ya.axis_label_text_font_size = "74px"
ya.axis_label_text_font_style = "normal"
ya.axis_label_text_color = "black"
ya.axis_label_standoff = 32

right = LinearAxis(ticker=FixedTicker(ticks=y_major, minor_ticks=y_minor),
                   major_tick_out=37, major_tick_in=0, minor_tick_out=37, minor_tick_in=0,
                   major_label_text_font_size="0px",
                   major_label_overrides={t: "" for t in y_major},
                   axis_line_width=3, major_tick_line_width=3, minor_tick_line_width=3)
p.add_layout(right, "right")

# spread band and mean line
p.varea(x=band_days, y1=[-h for h in band_half], y2=band_half, fill_color="#cccccc")
p.line(mean_days, mean_vals, line_width=10, line_color="black")

p.add_layout(Span(location=122, dimension="height", line_color="black",
                  line_width=3, line_dash="22 8"))

for yr in years:
    xs = [d for d, v in series[yr]]
    ys = [v for d, v in series[yr]]
    p.line(xs, ys, line_width=4, line_color=colors[yr], line_join="round", line_cap="round")

p.line([d for d, v in s2024], [v for d, v in s2024], line_width=13,
       line_color=colors[current_name], line_join="round", line_cap="round")

# ---------------- texts inside the frame ----------------
def lab(x, y, text, font, size, color="black", align="left", style="normal"):
    p.add_layout(Label(x=x, y=y, x_units="data", y_units="data", text=text,
                       text_font=font, text_font_size=size, text_color=color,
                       text_align=align, text_baseline="alphabetic",
                       text_font_style=style))

lab(4.7, 220.6, "1991-2020 mean", SERIF, "70px", style="bold")

for i, yr in enumerate(years):
    lab(4.7, -57.6 - 25.2 * i, yr, SERIF, "70px", color=colors[yr])
lab(4.7, -57.6 - 25.2 * len(years), current_name, SERIF, "86px", color=colors[current_name])

for yr, yv in tag_values.items():
    lab(344.9, yv, yr, SERIF, "56px", color=colors[yr])

open("out.html", "w").write(file_html(p, INLINE))
